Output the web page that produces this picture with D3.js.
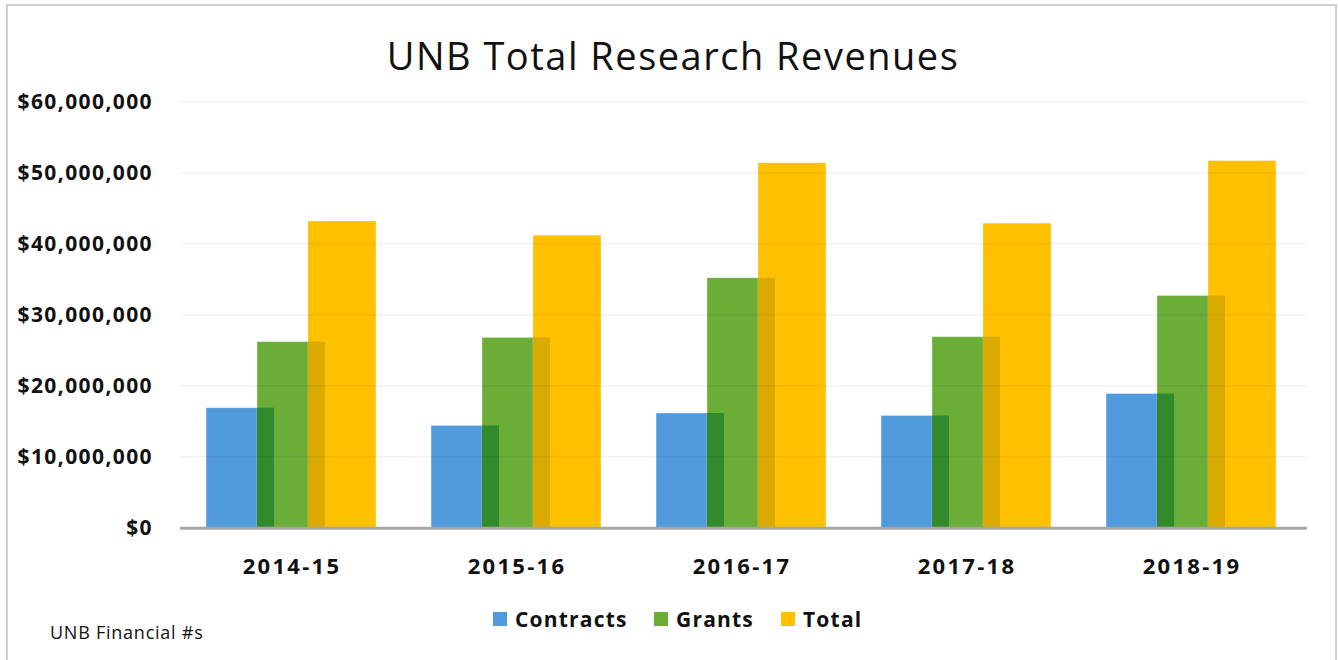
<!DOCTYPE html>
<html><head><meta charset="utf-8">
<script src="https://cdn.jsdelivr.net/npm/d3@7"></script>
<style>body{margin:0;background:#fff}svg{display:block}</style>
</head><body>
<svg id="c" width="1338" height="660"></svg>
<script>
const categories = ["2014-15","2015-16","2016-17","2017-18","2018-19"];
const seriesNames = ["Contracts","Grants","Total"];
const contracts = [16900000,14400000,16150000,15800000,18900000];
const grants = [26200000,26800000,35200000,26900000,32700000];
const totals = [43200000,41200000,51400000,42900000,51700000];
const yTicks = [0,10000000,20000000,30000000,40000000,50000000,60000000];
const colors = ["#519ADE","#6AAE38","#FFC000"];
const overlapColors = ["#318B2D","#DAAA00"];

const svg = d3.select("#c");
const font = "'Open Sans', Lato, sans-serif";
// border
svg.append("path").attr("d","M7,670 V5 H1336 V670").attr("fill","none").attr("stroke","#d0d0d0").attr("stroke-width",2);

const x = d3.scaleBand().domain(categories).range([178.5,1303.5]);
const y = d3.scaleLinear().domain([0,60000000]).range([527.7,101.7]);
const barW = x.bandwidth()*0.302, step = barW*0.75;
const offs = [-step, 0, step];
const values = [contracts, grants, totals];

// bars
seriesNames.forEach((s,i)=>{
  svg.append("g").selectAll("rect").data(categories).join("rect")
    .attr("x",c=>x(c)+x.bandwidth()/2+offs[i]-barW/2)
    .attr("width",barW)
    .attr("y",(c,j)=>y(values[i][j]))
    .attr("height",(c,j)=>y(0)-y(values[i][j]))
    .attr("fill",colors[i])
    .attr("stroke","#fff").attr("stroke-opacity",0.35).attr("stroke-width",0.8);
});
// overlaps
[0,1].forEach(i=>{
  svg.append("g").selectAll("rect").data(categories).join("rect")
    .attr("x",c=>x(c)+x.bandwidth()/2+offs[i+1]-barW/2)
    .attr("width",barW-step)
    .attr("y",(c,j)=>y(Math.min(values[i][j],values[i+1][j])))
    .attr("height",(c,j)=>y(0)-y(Math.min(values[i][j],values[i+1][j])))
    .attr("fill",overlapColors[i]);
});

// gridlines (faint, drawn over bars like the reference)
svg.append("g").selectAll("line").data(yTicks.slice(1)).join("line")
  .attr("x1",180).attr("x2",1307).attr("y1",d=>y(d)).attr("y2",d=>y(d))
  .attr("stroke","#000").attr("stroke-opacity",0.05).attr("stroke-width",1.5);

// baseline
svg.append("line").attr("x1",180).attr("x2",1307).attr("y1",y(0)+0.5).attr("y2",y(0)+0.5)
  .attr("stroke","#a6a6a6").attr("stroke-width",3);

// y labels
const fmt = d=>"$"+d3.format(",")(d);
svg.append("g").selectAll("text").data(yTicks).join("text")
  .attr("x",153).attr("y",d=>y(d)+7).attr("text-anchor","end")
  .attr("font-family",font).attr("font-weight","bold").attr("font-size",21)
  .attr("letter-spacing",1.4).attr("fill","#111")
  .text(fmt);

// x labels
svg.append("g").selectAll("text").data(categories).join("text")
  .attr("x",c=>x(c)+x.bandwidth()/2+1).attr("y",574).attr("text-anchor","middle")
  .attr("font-family",font).attr("font-weight","bold").attr("font-size",22)
  .attr("letter-spacing",2.3).attr("fill","#111")
  .text(d=>d);

// title
svg.append("text").attr("x",673).attr("y",70).attr("text-anchor","middle")
  .attr("font-family",font).attr("font-size",38).attr("letter-spacing",1.5).attr("fill","#111")
  .text("UNB Total Research Revenues");

// legend
const legX = [493,654,781];
seriesNames.forEach((s,i)=>{
  svg.append("rect").attr("x",legX[i]).attr("y",612).attr("width",14).attr("height",14).attr("fill",colors[i]);
  svg.append("text").attr("x",legX[i]+22).attr("y",627)
    .attr("font-family",font).attr("font-weight","bold").attr("font-size",21)
    .attr("letter-spacing",1.2).attr("fill","#111").text(s);
});

svg.append("text").attr("x",50).attr("y",639).attr("font-family",font).attr("font-size",18)
  .attr("letter-spacing",0.75).attr("fill","#111")
  .text("UNB Financial #s");
</script>
</body></html>
